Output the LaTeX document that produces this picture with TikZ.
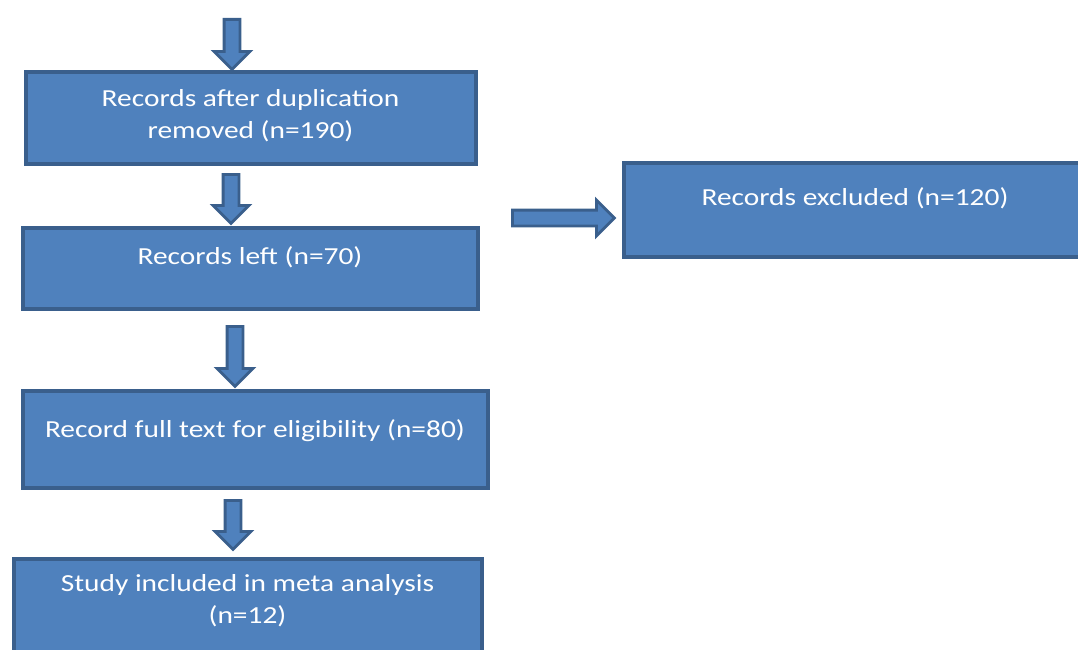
\documentclass[tikz,border=0pt]{standalone}
\usepackage{fontspec}
\setmainfont{Carlito}[FakeStretch=1.2]
\usetikzlibrary{shapes.arrows}
\definecolor{boxfill}{HTML}{4F81BD}
\definecolor{boxline}{HTML}{3A5F8C}
\begin{document}
\begin{tikzpicture}[x=1pt,y=-1pt,
  box/.style = {shape=rectangle, draw=boxline, fill=boxfill, line width=4pt, align=center,
                text=white, inner sep=0pt, font=\fontsize{24.5}{32}\selectfont},
  blockarrow/.style = {single arrow, draw=boxline, fill=boxfill, line width=2.8pt,
                inner xsep=0pt, inner ysep=6.5pt, minimum width=0pt, anchor=tail,
                single arrow head extend=10pt, single arrow head indent=0pt}]

  \useasboundingbox (0,0) rectangle (1078,650);

  \node[box, minimum width=450pt, minimum height=91pt, text depth=8pt] (dedup) at (250.5,118)
    {Records after duplication \\ removed (n=190)};
  \node[box, minimum width=455pt, minimum height=81pt, text depth=24pt] (left) at (250,268)
    {Records left (n=70)};
  \node[box, minimum width=465pt, minimum height=97pt, text depth=20pt] (full) at (255,439)
    {Record full text for eligibility (n=80)};
  \node[box, minimum width=468pt, minimum height=103pt, text depth=22pt] (study) at (247.5,610)
    {Study included in meta analysis \\ (n=12)};
  \node[box, minimum width=463pt, minimum height=94pt, text depth=25pt] (excl) at (855,209.5)
    {Records excluded (n=120)};

  \node[blockarrow, minimum height=50pt, rotate=-90] (intop) at (232,18) {};
  \node[blockarrow, minimum height=49pt, rotate=-90] (toleft) at (231,173) {};
  \node[blockarrow, minimum height=60pt, rotate=-90] (tofull) at (235,325) {};
  \node[blockarrow, minimum height=49pt, rotate=-90] (tostudy) at (233,499) {};
  \node[blockarrow, minimum height=102pt] (toexcl) at (511,218) {};
\end{tikzpicture}
\end{document}
